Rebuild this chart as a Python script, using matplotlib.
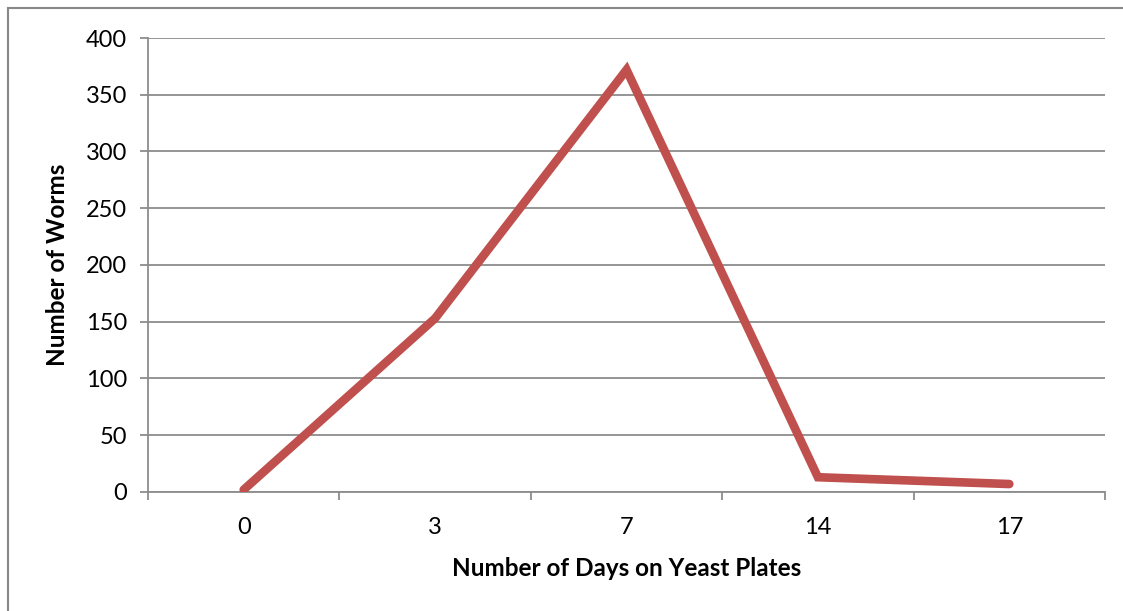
import numpy as np
import matplotlib.pyplot as plt
from matplotlib.lines import Line2D

plt.rcParams['font.family'] = ['Lato', 'DejaVu Sans']

# data
days = ['0', '3', '7', '14', '17']
worms = [2, 153, 372, 13, 7]

grid_col = '#8c8c8c'

fig = plt.figure(figsize=(11.23, 6.11), dpi=100)
ax = fig.add_axes([0.1318, 0.1948, 0.8522, 0.743])

x = np.arange(len(days))
ax.plot(x, worms, color='#C0504D', lw=6.2, solid_capstyle='round',
        solid_joinstyle='miter', zorder=3)

ax.set_xlim(-0.5, len(days) - 0.5)
ax.set_ylim(0, 400)
ax.set_yticks(np.arange(0, 401, 50))
ax.yaxis.grid(True, color=grid_col, lw=1.3)
ax.set_axisbelow(True)

# category labels centred, tick marks on the boundaries
ax.set_xticks(x)
ax.set_xticklabels(days)
ax.tick_params(axis='x', length=0, pad=18, labelsize=17)
ax.set_xticks(np.arange(-0.5, len(days)), minor=True)
ax.tick_params(axis='x', which='minor', length=6, width=1.3, color=grid_col)
ax.tick_params(axis='y', length=6, width=1.3, color=grid_col, labelsize=17, pad=9)

for s in ['top', 'right']:
    ax.spines[s].set_visible(False)
for s in ['left', 'bottom']:
    ax.spines[s].set_color(grid_col)
    ax.spines[s].set_linewidth(1.3)

ax.set_xlabel('Number of Days on Yeast Plates', fontsize=17.5, fontweight='bold', labelpad=14)
ax.set_ylabel('Number of Worms', fontsize=17.5, fontweight='bold', labelpad=12)

# chart frame (left and top edges visible)
fig.add_artist(Line2D([0.0075, 0.0075], [0, 0.987], transform=fig.transFigure,
                      color='#888888', lw=1.5))
fig.add_artist(Line2D([0.0075, 1], [0.987, 0.987], transform=fig.transFigure,
                      color='#888888', lw=1.5))

fig.savefig('out.png', dpi=100)
